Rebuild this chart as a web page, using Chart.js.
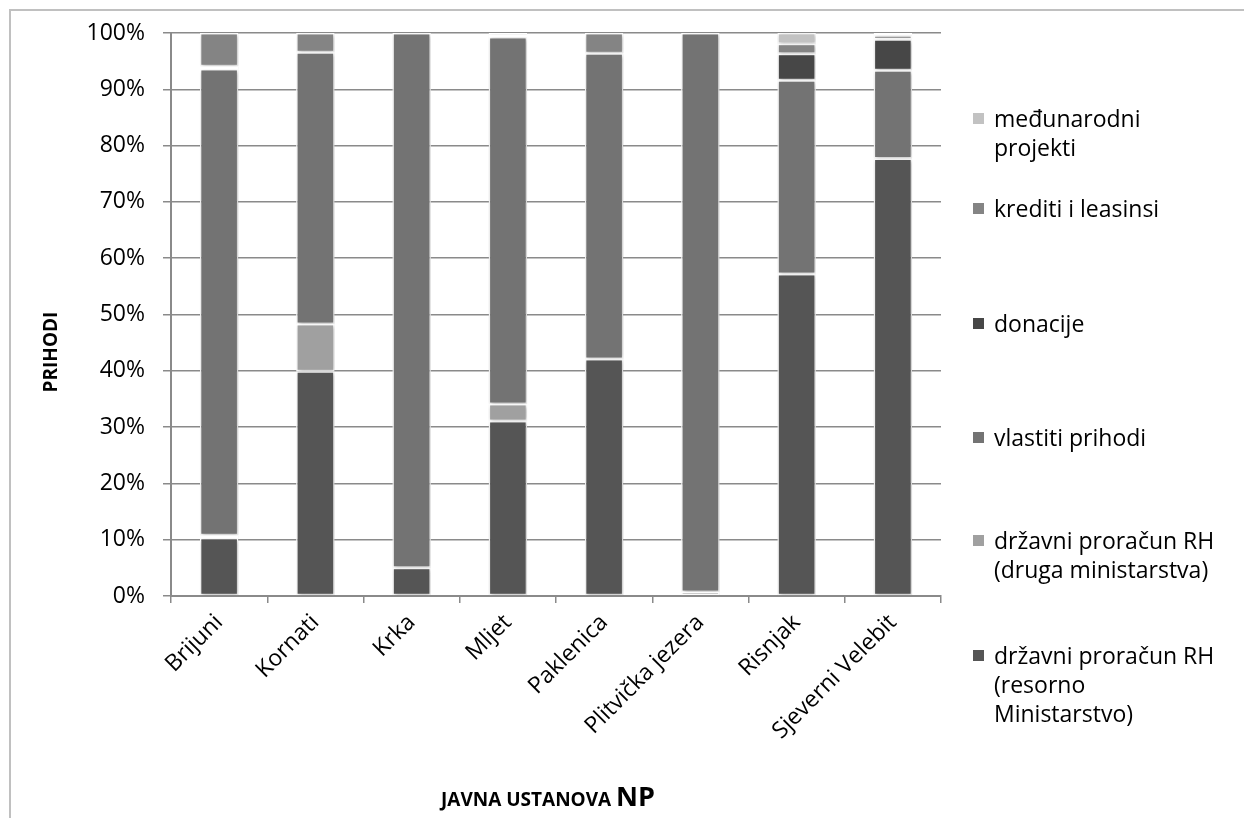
<!DOCTYPE html>
<html>
<head>
<meta charset="utf-8">
<script src="https://cdn.jsdelivr.net/npm/chart.js@4.4.1/dist/chart.umd.min.js"></script>
<style>
  html, body { margin: 0; padding: 0; background: #fff; }
  #wrap { position: relative; width: 1244px; height: 818px; overflow: hidden; }
  canvas { position: absolute; left: 0; top: 0; }
  .lg { position: absolute; left: 973px; font-family: "Open Sans", sans-serif; font-size: 23px; line-height: 29px; color: #000; }
  .lg .sw { position: absolute; left: 0; top: 9px; width: 11px; height: 11px; }
  .lg .tx { position: absolute; left: 21px; top: 0; white-space: pre; }
</style>
</head>
<body>
<div id="wrap">
  <canvas id="c" width="1244" height="818"></canvas>
</div>
<script>
const categories = ['Brijuni', 'Kornati', 'Krka', 'Mljet', 'Paklenica', 'Plitvička jezera', 'Risnjak', 'Sjeverni Velebit'];
const tickLabels = ['0%', '10%', '20%', '30%', '40%', '50%', '60%', '70%', '80%', '90%', '100%'];

const resorno      = [10.3, 39.9,  5.0, 31.1, 42.1,  0.7, 57.2, 77.7];
const drugaMin     = [ 0.5,  8.4,  0.0,  3.0,  0.0,  0.0,  0.0,  0.0];
const vlastiti     = [82.8, 48.3, 95.0, 65.2, 54.3, 99.3, 34.4, 15.7];
const donacije     = [ 0.5,  0.0,  0.0,  0.0,  0.0,  0.0,  4.7,  5.5];
const krediti      = [ 5.9,  3.4,  0.0,  0.4,  3.6,  0.0,  1.8,  0.7];
const medjunarodni = [ 0.0,  0.0,  0.0,  0.3,  0.0,  0.0,  1.9,  0.4];

const seriesNames = [
  'državni proračun RH\n(resorno\nMinistarstvo)',
  'državni proračun RH\n(druga ministarstva)',
  'vlastiti prihodi',
  'donacije',
  'krediti i leasinsi',
  'međunarodni\nprojekti'
];
const seriesValues = [resorno, drugaMin, vlastiti, donacije, krediti, medjunarodni];
const seriesColors = ['#555555', '#a0a0a0', '#737373', '#474747', '#848484', '#c2c2c2'];
const legendY = [655, 540, 437, 323, 208, 118];

const FONT = '"Open Sans", sans-serif';

const datasets = seriesNames.map((n, i) => ({
  label: n,
  data: seriesValues[i],
  backgroundColor: seriesColors[i],
  borderColor: '#ffffff',
  borderWidth: 1.5,
  borderSkipped: false,
  categoryPercentage: 1.0,
  barPercentage: 0.4
}));

const extras = {
  id: 'extras',
  beforeDraw(chart) {
    const ctx = chart.ctx;
    ctx.save();
    ctx.strokeStyle = '#c0c0c0';
    ctx.lineWidth = 2;
    ctx.strokeRect(10, 10, 1400, 1000);
    ctx.restore();
  },
  beforeDatasetsDraw(chart) {
    const ctx = chart.ctx;
    ctx.save();
    ctx.shadowColor = 'rgba(0,0,0,0.28)';
    ctx.shadowBlur = 4;
    ctx.shadowOffsetX = 1;
    ctx.shadowOffsetY = 1;
  },
  afterDatasetsDraw(chart) {
    chart.ctx.restore();
  },
  afterDraw(chart) {
    const ctx = chart.ctx;
    ctx.save();
    ctx.fillStyle = '#000';
    ctx.translate(52, 352);
    ctx.rotate(-Math.PI / 2);
    ctx.font = 'bold 19px ' + FONT;
    ctx.textAlign = 'center';
    ctx.textBaseline = 'middle';
    ctx.fillText('PRIHODI', 0, 0);
    ctx.restore();
    ctx.save();
    ctx.fillStyle = '#000';
    ctx.textBaseline = 'alphabetic';
    const p1 = 'JAVNA USTANOVA ';
    const p2 = 'NP';
    ctx.font = 'bold 19px ' + FONT;
    const w1 = ctx.measureText(p1).width;
    ctx.font = 'bold 27px ' + FONT;
    const w2 = ctx.measureText(p2).width;
    const x0 = 548 - (w1 + w2) / 2;
    ctx.font = 'bold 19px ' + FONT;
    ctx.fillText(p1, x0, 806);
    ctx.font = 'bold 27px ' + FONT;
    ctx.fillText(p2, x0 + w1, 806);
    ctx.restore();
  }
};

const chart = new Chart(document.getElementById('c'), {
  type: 'bar',
  data: { labels: categories, datasets },
  options: {
    responsive: false,
    animation: false,
    layout: { padding: { left: 0, top: 33, right: 303, bottom: 0 } },
    plugins: { legend: { display: false }, tooltip: { enabled: false } },
    scales: {
      x: {
        stacked: true,
        afterFit(s) { s.height = 222; },
        grid: { drawOnChartArea: false, drawTicks: true, tickLength: 7, color: '#8a8a8a', lineWidth: 1.5, offset: true },
        border: { display: true, color: '#8a8a8a', width: 2 },
        ticks: { autoSkip: false, minRotation: 45, maxRotation: 45, color: '#000', font: { family: FONT, size: 23 }, padding: 6 }
      },
      y: {
        stacked: true,
        min: 0, max: 100,
        afterFit(s) { s.width = 171; },
        afterBuildTicks(s) { s.ticks = tickLabels.map(t => ({ value: parseFloat(t) })); },
        grid: { color: '#8a8a8a', lineWidth: 1.5, tickLength: 8, drawTicks: true },
        border: { display: true, color: '#8a8a8a', width: 2 },
        ticks: {
          color: '#000', font: { family: FONT, size: 23 }, padding: 18,
          callback: (v, i) => tickLabels[i]
        }
      }
    }
  },
  plugins: [extras]
});

const wrap = document.getElementById('wrap');
for (let i = seriesNames.length - 1; i >= 0; i--) {
  const d = document.createElement('div');
  d.className = 'lg';
  d.style.top = (legendY[i] - 14.5) + 'px';
  const sw = document.createElement('div');
  sw.className = 'sw';
  sw.style.background = seriesColors[i];
  const tx = document.createElement('div');
  tx.className = 'tx';
  tx.textContent = seriesNames[i];
  d.appendChild(sw);
  d.appendChild(tx);
  wrap.appendChild(d);
}
</script>
</body>
</html>
